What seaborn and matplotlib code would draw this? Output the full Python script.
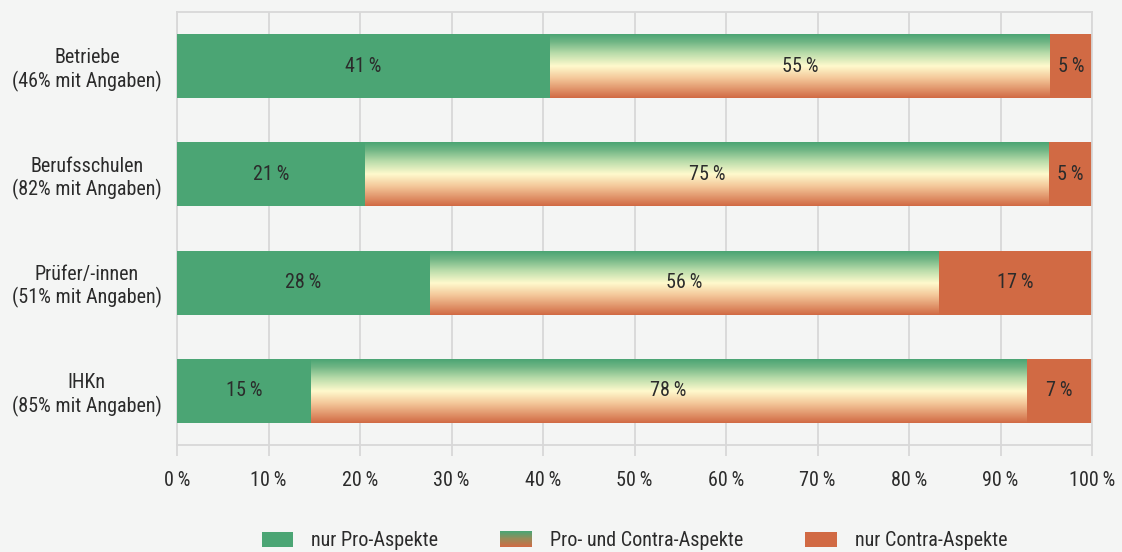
import matplotlib
matplotlib.use("Agg")
import matplotlib.pyplot as plt
import seaborn as sns
import numpy as np
from matplotlib import font_manager
from matplotlib.colors import LinearSegmentedColormap
from matplotlib.legend_handler import HandlerBase
from matplotlib.patches import Rectangle

categories = [
    "Betriebe\n(46% mit Angaben)",
    "Berufsschulen\n(82% mit Angaben)",
    "Prüfer/-innen\n(51% mit Angaben)",
    "IHKn\n(85% mit Angaben)",
]
pro = [40.8, 20.6, 27.6, 14.6]
both = [54.6, 74.6, 55.6, 78.2]
contra = [4.6, 4.8, 16.8, 7.2]
series_names = ["nur Pro-Aspekte", "Pro- und Contra-Aspekte", "nur Contra-Aspekte"]
x_ticks = list(range(0, 101, 10))

GREEN = "#4ba574"
ORANGE = "#d16a44"
BG = "#f4f5f4"
GRID = "#d8d8d8"
TEXT = "#2b2b2b"
grad_cmap = LinearSegmentedColormap.from_list(
    "procontra",
    [(0.0, GREEN), (0.12, "#6fb584"), (0.3, "#b9dcaa"), (0.5, "#fffacd"),
     (0.7, "#f3c597"), (1.0, ORANGE)],
)
legend_cmap = LinearSegmentedColormap.from_list("legend", [GREEN, "#9a8a58", ORANGE])

sns.set_theme(style="white")
names = {f.name for f in font_manager.fontManager.ttflist}
family = "DejaVu Sans"
for cand in ["Liberation Sans Narrow", "Roboto Condensed", "Open Sans Condensed"]:
    if cand in names:
        family = cand
        break
plt.rcParams["font.family"] = [family, "DejaVu Sans"]
plt.rcParams["font.stretch"] = "condensed"
FS = 14.5

fig = plt.figure(figsize=(11.22, 5.52), dpi=100, facecolor=BG)
ax = fig.add_axes([177 / 1122, 1 - 445 / 552, 915 / 1122, 433 / 552])
ax.set_facecolor(BG)

totals = [p + b + c for p, b, c in zip(pro, both, contra)]
pro_both = [p + b for p, b in zip(pro, both)]

bw = 0.59
bar_kws = dict(orient="h", width=bw, saturation=1, linewidth=0, ax=ax)
sns.barplot(x=totals, y=categories, color=ORANGE, zorder=2, **bar_kws)
sns.barplot(x=pro_both, y=categories, color=ORANGE, zorder=2.5, **bar_kws)
sns.barplot(x=pro, y=categories, color=GREEN, zorder=3, **bar_kws)

# gradient fill for the middle segments
grad = np.linspace(0, 1, 256).reshape(-1, 1)
for patch in ax.containers[1]:
    x0, y0 = patch.get_x(), patch.get_y()
    w, h = patch.get_width(), patch.get_height()
    im = ax.imshow(grad, cmap=grad_cmap, aspect="auto", origin="upper",
                   extent=(x0, x0 + w, y0 + h, y0), zorder=2.6, interpolation="bilinear")
    im.set_clip_path(patch)

# value labels
for i in range(len(categories)):
    starts = [0, pro[i], pro_both[i]]
    vals = [pro[i], both[i], contra[i]]
    for s, v in zip(starts, vals):
        ax.text(s + v / 2, i, f"{round(v)}\u2009%", ha="center", va="center",
                fontsize=FS, color=TEXT, zorder=5)

ax.set_xlim(0, 100)
ax.set_ylim(len(categories) - 0.5, -0.5)
ax.set_xticks(x_ticks)
ax.set_xticklabels([f"{t}\u2009%" for t in x_ticks])
ax.set_axisbelow(True)
ax.grid(axis="x", color=GRID, linewidth=1.3)
ax.grid(axis="y", visible=False)
for sp in ax.spines.values():
    sp.set_color(GRID)
    sp.set_linewidth(1.3)
ax.tick_params(axis="x", length=8, width=1.3, color=GRID, pad=11, labelsize=FS,
               labelcolor=TEXT, bottom=True)
ax.tick_params(axis="y", length=0, pad=11, labelsize=FS, labelcolor=TEXT)
for lab in ax.get_yticklabels():
    lab.set_multialignment("center")
ax.set_xlabel("")
ax.set_ylabel("")


class GradientHandler(HandlerBase):
    def create_artists(self, legend, orig_handle, xdescent, ydescent, width,
                       height, fontsize, trans):
        n = 24
        arts = []
        for k in range(n):
            arts.append(Rectangle((-xdescent, -ydescent + height * (n - 1 - k) / n),
                                  width, height / n + 0.3,
                                  facecolor=legend_cmap((k + 0.5) / n),
                                  edgecolor="none", transform=trans))
        return arts


h_pro = Rectangle((0, 0), 1, 1, facecolor=GREEN, edgecolor="none")
h_both = Rectangle((0, 0), 1, 1, facecolor=GREEN, edgecolor="none")
h_con = Rectangle((0, 0), 1, 1, facecolor=ORANGE, edgecolor="none")
fig.legend([h_pro, h_both, h_con], series_names, loc="center",
           bbox_to_anchor=(634.5 / 1122, 11 / 552), ncol=3, frameon=False,
           fontsize=FS, labelcolor=TEXT, handlelength=1.55, handleheight=0.8,
           handletextpad=0.9, columnspacing=3.1,
           handler_map={h_both: GradientHandler()})

fig.savefig("out.png", dpi=100, facecolor=BG)
